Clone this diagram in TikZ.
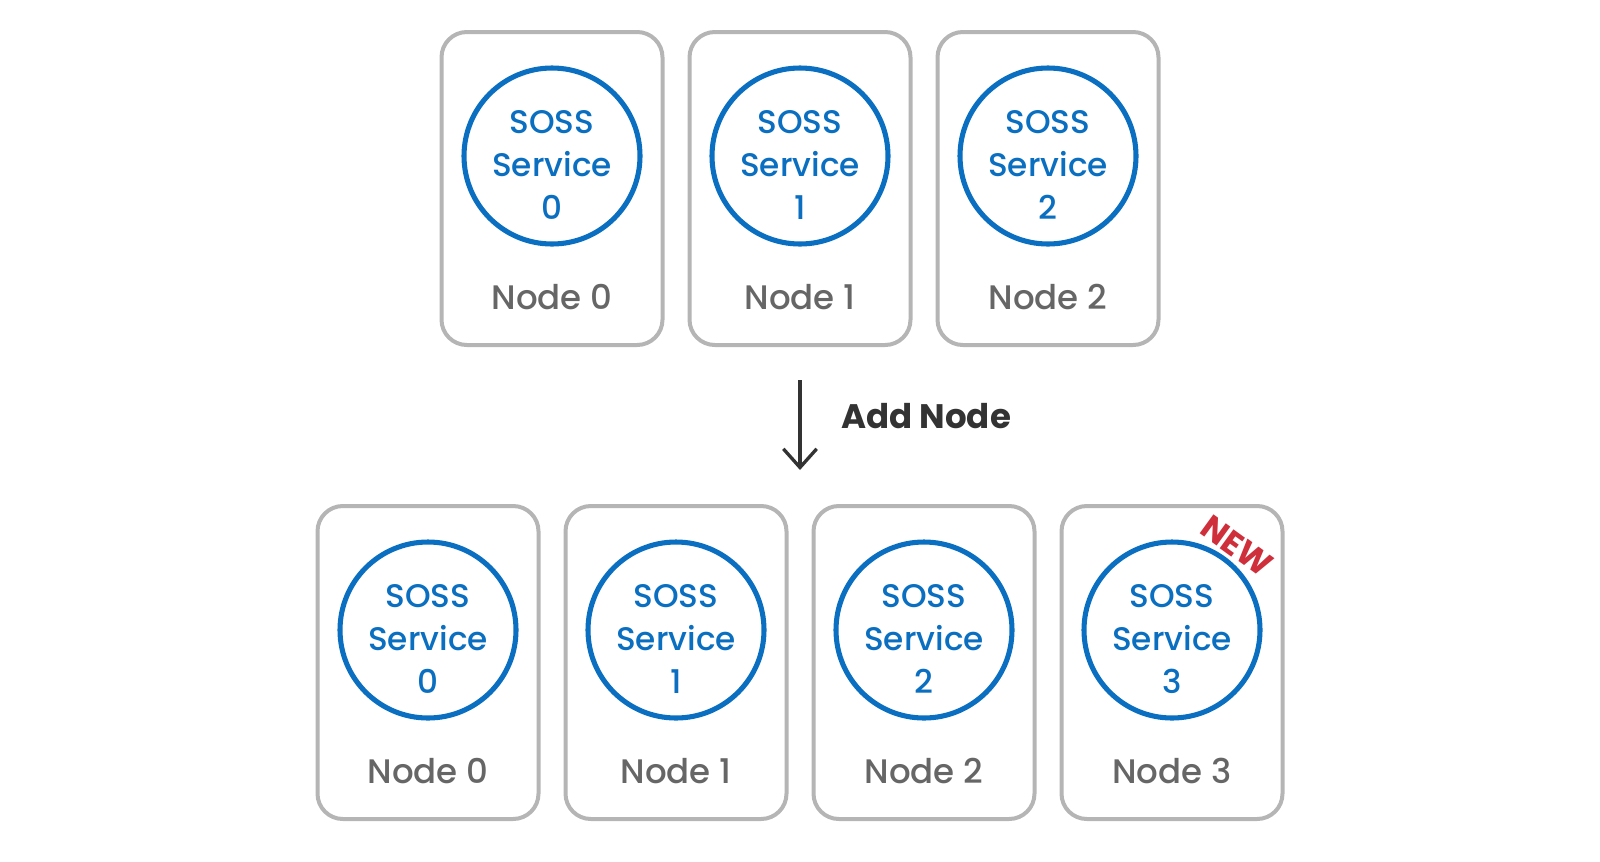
\documentclass[tikz,border=0pt]{standalone}
\usepackage{fontspec}
\setmainfont{Poppins}
\newfontfamily\medfont{Poppins Medium}
\usetikzlibrary{arrows.meta}
\definecolor{boxgray}{HTML}{B5B5B5}
\definecolor{svcblue}{HTML}{0A6FC0}
\definecolor{lblgray}{HTML}{666666}
\definecolor{darktxt}{HTML}{333333}
\definecolor{newred}{HTML}{CF2E3B}
\tikzset{
  nodebox/.style={draw=boxgray, line width=3pt, rounded corners=19pt, fill=white,
    minimum width=165.75pt, minimum height=234.75pt, inner sep=0pt},
  svccircle/.style={draw=svcblue, line width=3.8pt, circle, minimum size=132pt, inner sep=0pt},
  svctext/.style={text=svcblue, align=center, font=\medfont\fontsize{24.5}{32.5}\selectfont, inner sep=0pt},
  nodelabel/.style={text=lblgray, font=\medfont\fontsize{25.5}{30}\selectfont, inner sep=0pt},
  addlabel/.style={text=darktxt, font=\bfseries\fontsize{25.5}{30}\selectfont, inner sep=0pt, anchor=west},
  newlabel/.style={text=newred, font=\bfseries\fontsize{25}{30}\selectfont, inner sep=0pt, rotate=-36},
  addarrow/.style={draw=darktxt, line width=2.5pt, -{Straight Barb[length=14pt,width=25pt,line width=2.5pt]}}
}
\begin{document}
\begin{tikzpicture}[x=0.75pt,y=-0.75pt]
\useasboundingbox (0,0) rectangle (1600,861);
% top row
\foreach \i/\cx in {0/552,1/800,2/1048}{
  \node[nodebox] (tb\i) at (\cx,188.5) {};
  \node[svccircle] (tc\i) at (\cx,156) {};
  \node[svctext] (tt\i) at (\cx,165) {SOSS\\Service\\\i};
  \node[nodelabel] (tl\i) at (\cx,297) {Node \i};
}
% bottom row
\foreach \i/\cx in {0/428,1/676,2/924,3/1172}{
  \node[nodebox] (bb\i) at (\cx,662.5) {};
  \node[svccircle] (bc\i) at (\cx,630) {};
  \node[svctext] (bt\i) at (\cx,639) {SOSS\\Service\\\i};
  \node[nodelabel] (bl\i) at (\cx,771) {Node \i};
}
\node[newlabel] (newtag) at (1237,546) {NEW};
% arrow
\coordinate (arrtop) at (800,380);
\coordinate (arrtip) at (800,470);
\draw[addarrow] (arrtop) -- (arrtip);
\node[addlabel] (addtxt) at (841,416) {Add Node};
\end{tikzpicture}
\end{document}
